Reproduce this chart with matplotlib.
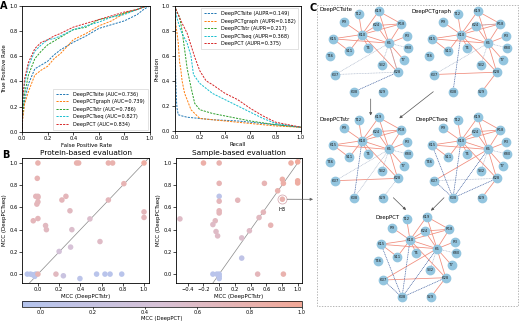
import numpy as np
import matplotlib
matplotlib.use("Agg")
import matplotlib.pyplot as plt
from matplotlib.colors import LinearSegmentedColormap, Normalize
from matplotlib.cm import ScalarMappable

W, H = 520, 321
fig = plt.figure(figsize=(W / 100, H / 100), dpi=100)

def pax(l, t, r, b):
    return fig.add_axes([l / W, 1 - b / H, (r - l) / W, (b - t) / H])

models = ["DeepPCTsite", "DeepPCTgraph", "DeepPCTstr", "DeepPCTseq", "DeepPCT"]
colors = ["#1f77b4", "#ff7f0e", "#2ca02c", "#17becf", "#d62728"]
auc = [0.736, 0.739, 0.786, 0.827, 0.834]
aupr = [0.149, 0.182, 0.217, 0.368, 0.375]

# ROC curves
roc_fpr = [0, 0.005, 0.02, 0.05, 0.1, 0.15, 0.2, 0.25, 0.3, 0.4, 0.5, 0.6, 0.7, 0.8, 0.9, 0.95, 1.0]
roc_tpr_site = [0, 0.12, 0.25, 0.38, 0.50, 0.53, 0.56, 0.61, 0.65, 0.71, 0.76, 0.82, 0.85, 0.88, 0.93, 0.97, 1.0]
roc_tpr_graph = [0, 0.10, 0.22, 0.32, 0.45, 0.49, 0.52, 0.58, 0.62, 0.73, 0.78, 0.84, 0.88, 0.94, 0.97, 0.99, 1.0]
roc_tpr_str = [0, 0.15, 0.30, 0.45, 0.58, 0.64, 0.69, 0.72, 0.75, 0.81, 0.83, 0.89, 0.91, 0.94, 0.97, 0.99, 1.0]
roc_tpr_seq = [0, 0.20, 0.38, 0.52, 0.64, 0.69, 0.73, 0.74, 0.76, 0.81, 0.84, 0.87, 0.91, 0.93, 0.97, 0.99, 1.0]
roc_tpr_pct = [0, 0.25, 0.42, 0.55, 0.66, 0.71, 0.73, 0.76, 0.78, 0.83, 0.86, 0.89, 0.92, 0.95, 0.97, 0.99, 1.0]
roc_tprs = [roc_tpr_site, roc_tpr_graph, roc_tpr_str, roc_tpr_seq, roc_tpr_pct]

# PR curves
pr_rec_site = [0, 0.003, 0.006, 0.01, 0.015, 0.02, 0.03, 0.06, 0.1, 0.2, 0.3, 0.5, 0.7, 0.9, 1.0]
pr_prec_site = [1.0, 0.8, 0.6, 0.4, 0.25, 0.18, 0.13, 0.12, 0.11, 0.10, 0.09, 0.08, 0.06, 0.04, 0.03]
pr_rec_graph = [0, 0.01, 0.02, 0.03, 0.035, 0.04, 0.05, 0.06, 0.08, 0.1, 0.13, 0.2, 0.4, 0.6, 0.8, 1.0]
pr_prec_graph = [1.0, 0.85, 0.78, 0.70, 0.62, 0.55, 0.49, 0.40, 0.30, 0.25, 0.17, 0.10, 0.08, 0.06, 0.04, 0.03]
pr_rec_str = [0, 0.02, 0.04, 0.06, 0.08, 0.1, 0.13, 0.16, 0.2, 0.3, 0.4, 0.5, 0.6, 0.8, 1.0]
pr_prec_str = [1.0, 0.95, 0.91, 0.80, 0.65, 0.50, 0.35, 0.22, 0.17, 0.14, 0.12, 0.10, 0.08, 0.05, 0.03]
pr_rec_seq = [0, 0.02, 0.05, 0.1, 0.13, 0.15, 0.2, 0.3, 0.4, 0.5, 0.6, 0.7, 0.8, 1.0]
pr_prec_seq = [1.0, 0.9, 0.80, 0.70, 0.60, 0.45, 0.38, 0.30, 0.25, 0.20, 0.15, 0.10, 0.06, 0.03]
pr_rec_pct = [0, 0.02, 0.05, 0.1, 0.16, 0.2, 0.25, 0.3, 0.4, 0.5, 0.6, 0.7, 0.8, 1.0]
pr_prec_pct = [1.0, 0.95, 0.88, 0.78, 0.59, 0.48, 0.40, 0.37, 0.30, 0.25, 0.18, 0.12, 0.07, 0.03]
pr_recs = [pr_rec_site, pr_rec_graph, pr_rec_str, pr_rec_seq, pr_rec_pct]
pr_precs = [pr_prec_site, pr_prec_graph, pr_prec_str, pr_prec_seq, pr_prec_pct]

# Panel B scatter: (MCC str, MCC seq, MCC DeepPCT)
prot_str = [0.0, 0.365, 0.384, 0.664, 0.704, 1.0, -0.006, 0.0, -0.02, 0.0, 0.0, -0.01, 0.0, -0.044,
            0.226, 0.264, 0.302, 0.32, 0.072, 0.08, 0.49, 0.664, 0.81, 1.0, 1.0, 0.585, 0.308, 0.2,
            0.17, 0.24, 0.396, 0.553, 0.632, 0.68, 0.79, -0.1, -0.07, -0.05, -0.03, -0.02, 0.0]
prot_seq = [1.0, 1.0, 1.0, 1.0, 1.0, 1.0, 0.862, 0.70, 0.70, 0.69, 0.65, 0.63, 0.50, 0.48,
            0.667, 0.70, 0.57, 0.40, 0.437, 0.40, 0.497, 0.667, 0.814, 0.56, 0.51, 0.293, 0.243, 0.204,
            0.0, -0.015, -0.04, 0.0, 0.0, 0.0, 0.0, 0.0, 0.0, -0.005, -0.02, 0.0, 0.0]
prot_pct = [0.8, 0.8, 0.8, 0.8, 0.8, 0.9, 0.75, 0.7, 0.7, 0.7, 0.7, 0.7, 0.7, 0.7,
            0.7, 0.7, 0.65, 0.55, 0.65, 0.65, 0.55, 0.7, 0.75, 0.7, 0.7, 0.6, 0.45, 0.4,
            0.65, 0.25, 0.05, 0.0, 0.0, 0.0, 0.0, 0.0, 0.0, 0.0, 0.0, 0.0, 0.75]

samp_str = [-0.2, 0.0, 0.915, 1.0, 0.0, 0.0, 0.0, 0.576, 0.805, 0.818, 1.0, 1.0, 0.745, 0.805,
            0.236, 0.0, 0.0, -0.5, -0.05, -0.08, -0.04, -0.02, 0.563, 0.508, 0.656, 0.385, 0.287,
            0.287, -0.08, -0.03, 0.0, 0.0, 0.0, 0.49, 0.818]
samp_seq = [1.0, 1.0, 1.0, 1.01, 0.817, 0.70, 0.656, 0.817, 0.853, 0.817, 0.84, 0.82, 0.75, 0.674,
            0.665, 0.57, 0.55, 0.497, 0.48, 0.446, 0.383, 0.344, 0.557, 0.509, 0.44, 0.39, 0.326,
            0.144, 0.0, 0.0, 0.0, -0.02, -0.04, 0.0, 0.0]
samp_pct = [0.85, 0.8, 0.9, 0.95, 0.75, 0.05, 0.7, 0.75, 0.85, 0.85, 0.9, 0.9, 0.8, 0.8,
            0.7, 0.7, 0.7, 0.6, 0.65, 0.6, 0.6, 0.6, 0.7, 0.65, 0.75, 0.6, 0.55,
            0.1, 0.0, 0.0, 0.0, 0.0, 0.0, 0.7, 0.8]

# Panel C network
node_names = ["T12", "K19", "R9", "K24", "R18", "K10", "R3", "K15", "K5", "T4", "K80",
              "S11", "T46", "T7", "S32", "K28", "K37", "K38", "S29"]
core_red = [("K10", "K19"), ("K10", "R9"), ("K10", "K24"), ("K10", "K15"), ("K10", "K5"),
            ("K10", "S11"), ("K10", "R18"), ("K10", "T12"), ("K19", "R18"), ("K19", "K5"),
            ("K24", "R18"), ("K24", "K5"), ("R18", "K5"), ("K5", "R3"), ("K5", "T7"),
            ("K5", "K28"), ("K15", "S11"), ("K15", "K5"), ("K10", "K28"), ("K10", "T4")]
core_gray = [("K5", "K80"), ("K5", "S32")]
net_red = {
    "DeepPCTsite": [],
    "DeepPCTgraph": [("K37", "K28"), ("K28", "S29")],
    "DeepPCTstr": [("K37", "K28")],
    "DeepPCTseq": [("K37", "K5"), ("K28", "S29")],
    "DeepPCT": [("K37", "K28"), ("K37", "K5"), ("K28", "S29")],
}
net_blue = {
    "DeepPCTsite": [("K28", "K38")],
    "DeepPCTgraph": [("K10", "K38")],
    "DeepPCTstr": [("K10", "K38")],
    "DeepPCTseq": [("K15", "K38"), ("K37", "K38"), ("K10", "K38"), ("K5", "K38"), ("K28", "K38")],
    "DeepPCT": [("K15", "K38"), ("K37", "K38"), ("K10", "K38"), ("K5", "K38"), ("K28", "K38")],
}
net_gray = {
    "DeepPCTsite": [("K37", "K28"), ("K37", "K5"), ("K5", "K28")],
    "DeepPCTgraph": [("K37", "K5"), ("K24", "R18")],
    "DeepPCTstr": [("K37", "K5"), ("K5", "K38"), ("K28", "S29")],
    "DeepPCTseq": [("K37", "K28")],
    "DeepPCT": [],
}

# ---------------- styling helpers
TFS = 3.7
LFS = 4.0

def style(ax):
    ax.tick_params(labelsize=TFS, length=2, width=0.5, pad=1.2)
    for s in ax.spines.values():
        s.set_linewidth(0.6)

ls = (0, (2.2, 1.2))

def legend(ax, loc):
    lg = ax.legend(loc=loc, fontsize=3.6, handlelength=2.6, frameon=True, borderpad=0.6,
                   labelspacing=0.5, fancybox=False, edgecolor="#cccccc", handletextpad=0.8)
    lg.get_frame().set_linewidth(0.5)

# ROC
ax1 = pax(22, 5.7, 150, 132)
for m, c, a, t in zip(models, colors, auc, roc_tprs):
    ax1.plot(roc_fpr, t, color=c, ls=ls, lw=0.7, label=f"{m} (AUC={a:.3f})")
ax1.set_xlim(0, 1); ax1.set_ylim(0, 1)
ax1.set_xticks(np.arange(0, 1.01, 0.2)); ax1.set_yticks(np.arange(0, 1.01, 0.2))
ax1.set_xlabel("False Positive Rate", fontsize=LFS, labelpad=1)
ax1.set_ylabel("True Positive Rate", fontsize=LFS, labelpad=1.5)
style(ax1)
legend(ax1, "lower right")

# PR
ax2 = pax(174.5, 5.7, 301, 131)
for m, c, a, r, p in zip(models, colors, aupr, pr_recs, pr_precs):
    ax2.plot(r, p, color=c, ls=ls, lw=0.7, label=f"{m} (AUPR={a:.3f})")
ax2.set_xlim(0, 1); ax2.set_ylim(0, 1)
ax2.set_xticks(np.arange(0, 1.01, 0.2)); ax2.set_yticks(np.arange(0, 1.01, 0.2))
ax2.set_xlabel("Recall", fontsize=LFS, labelpad=1)
ax2.set_ylabel("Precision", fontsize=LFS, labelpad=1.5)
style(ax2)
legend(ax2, "upper right")

# Panel B
cmap = LinearSegmentedColormap.from_list("mcc", ["#b4c4ee", "#d8c2d6", "#f3a897"])
norm = Normalize(vmin=-0.07, vmax=1.0)

ax3 = pax(22, 158, 149, 283)
ax3.plot([-1, 2], [-1, 2], color="#888888", lw=0.5, zorder=1)
ax3.scatter(prot_str, prot_seq, c=prot_pct, cmap=cmap, norm=norm, s=16, linewidths=0, zorder=2)
ax3.set_xlim(-0.15, 1.047); ax3.set_ylim(-0.08, 1.045)
ax3.set_xticks(np.arange(0, 1.01, 0.2)); ax3.set_yticks(np.arange(0, 1.01, 0.2))
ax3.set_xlabel("MCC (DeepPCTstr)", fontsize=LFS, labelpad=1)
ax3.set_ylabel("MCC (DeepPCTseq)", fontsize=LFS, labelpad=1.5)
ax3.set_title("Protein-based evaluation", fontsize=5.3, pad=2.5)
style(ax3)

ax4 = pax(176, 158, 302, 283)
ax4.plot([-1, 2], [-1, 2], color="#888888", lw=0.5, zorder=1)
ax4.scatter(samp_str, samp_seq, c=samp_pct, cmap=cmap, norm=norm, s=16, linewidths=0, zorder=2)
ax4.set_xlim(-0.55, 1.055); ax4.set_ylim(-0.08, 1.045)
ax4.set_xticks(np.round(np.arange(-0.4, 1.01, 0.2), 1)); ax4.set_yticks(np.arange(0, 1.01, 0.2))
ax4.set_xlabel("MCC (DeepPCTstr)", fontsize=LFS, labelpad=1)
ax4.set_ylabel("MCC (DeepPCTseq)", fontsize=LFS, labelpad=1.5)
ax4.set_title("Sample-based evaluation", fontsize=5.3, pad=2.5)
style(ax4)
h3x, h3y = samp_str[13], samp_seq[13]
ax4.plot([h3x], [h3y], "o", ms=6.5, mfc="none", mec="#d0a0a8", mew=0.5, zorder=3)
ax4.text(h3x, h3y - 0.07, "H3", fontsize=3.8, ha="center", va="top")
ax4.annotate("", xy=(313 / W, 1 - 199.3 / H), xycoords="figure fraction",
             xytext=(h3x, h3y), textcoords="data",
             arrowprops=dict(arrowstyle="-|>", color="#666666", lw=0.5, shrinkA=3.5, shrinkB=0,
                             mutation_scale=4))

cax = pax(22, 301, 302, 307)
cb = fig.colorbar(ScalarMappable(norm=norm, cmap=cmap), cax=cax, orientation="horizontal")
cb.set_ticks(np.arange(0, 1.01, 0.2))
cb.ax.tick_params(labelsize=3.6, length=1.5, width=0.5, pad=1)
cb.outline.set_linewidth(0.5)
cb.set_label("MCC (DeepPCT)", fontsize=3.8, labelpad=0.5)

# Panel labels
fig.text(0 / W, 1 - 1 / H, "A", fontsize=7, fontweight="bold", va="top")
fig.text(2 / W, 1 - 150 / H, "B", fontsize=7, fontweight="bold", va="top")
fig.text(309 / W, 1 - 3 / H, "C", fontsize=7, fontweight="bold", va="top")

# Panel C network
axn = fig.add_axes([305 / W, 0, 215 / W, 1])
axn.set_xlim(305, 520); axn.set_ylim(H, 0); axn.axis("off")
axn.patch.set_alpha(0)
axn.add_patch(plt.Rectangle((317, 5), 201, 301, fill=False, ls=(0, (2, 2)), lw=0.5, ec="#999999"))

layout = {"T12": (-3.3, -20.7), "K19": (16.7, -23.3), "R9": (-17.7, -12.3), "K24": (14.7, -9),
          "R18": (39.3, -10.7), "K10": (0, 0), "R3": (44.7, 1.7), "K15": (-29, 4.3),
          "K5": (27, 8.7), "T4": (6.3, 13.3), "K80": (46, 13.3), "S11": (-12.7, 16.7),
          "T46": (-31.7, 21.3), "T7": (41.7, 25.3), "S32": (20, 30), "K28": (35.7, 37.7),
          "K37": (-26.7, 40), "K38": (-8, 57.3), "S29": (20.7, 57.3)}
centers = {"DeepPCTsite": (362, 34.5), "DeepPCTgraph": (461, 34.5), "DeepPCTstr": (362, 140.7),
           "DeepPCTseq": (461, 140.7), "DeepPCT": (410, 240)}
title_pos = {"DeepPCTsite": (319, 10), "DeepPCTgraph": (412, 11), "DeepPCTstr": (319, 120),
             "DeepPCTseq": (416, 120), "DeepPCT": (375, 217)}

for m in models:
    cx, cy = centers[m]
    P = {n: (cx + layout[n][0], cy + layout[n][1]) for n in node_names}
    def seg(e, **kw):
        a, b = P[e[0]], P[e[1]]
        axn.plot([a[0], b[0]], [a[1], b[1]], zorder=1, **kw)
    for e in core_red + net_red[m]:
        seg(e, color="#f08a7a", lw=0.55)
    for e in core_gray + net_gray[m]:
        seg(e, color="#a8b4c8", lw=0.45, ls=(0, (1.5, 1)))
    for e in net_blue[m]:
        seg(e, color="#4060a0", lw=0.5, ls=(0, (1.5, 1)))
    for n in node_names:
        x, y = P[n]
        axn.plot([x], [y], "o", ms=6.0, mfc="#93c5df", mec="#93c5df", zorder=2)
        axn.text(x, y, n, fontsize=2.7, ha="center", va="center", color="#222222", zorder=3)
    tx, ty = title_pos[m]
    axn.text(tx, ty, m, fontsize=3.9, ha="left", va="center")

arrows = [((370.7, 99), (370.7, 115.5)), ((433.3, 91.7), (399.3, 118.3)),
          ((393.3, 197.7), (406, 210)), ((444, 197.7), (431, 210.7))]
for (x0, y0), (x1, y1) in arrows:
    axn.annotate("", xy=(x1, y1), xytext=(x0, y0),
                 arrowprops=dict(arrowstyle="-|>", color="#555555", lw=0.5, mutation_scale=4,
                                 shrinkA=0, shrinkB=0))

fig.savefig("out.png", dpi=100)
